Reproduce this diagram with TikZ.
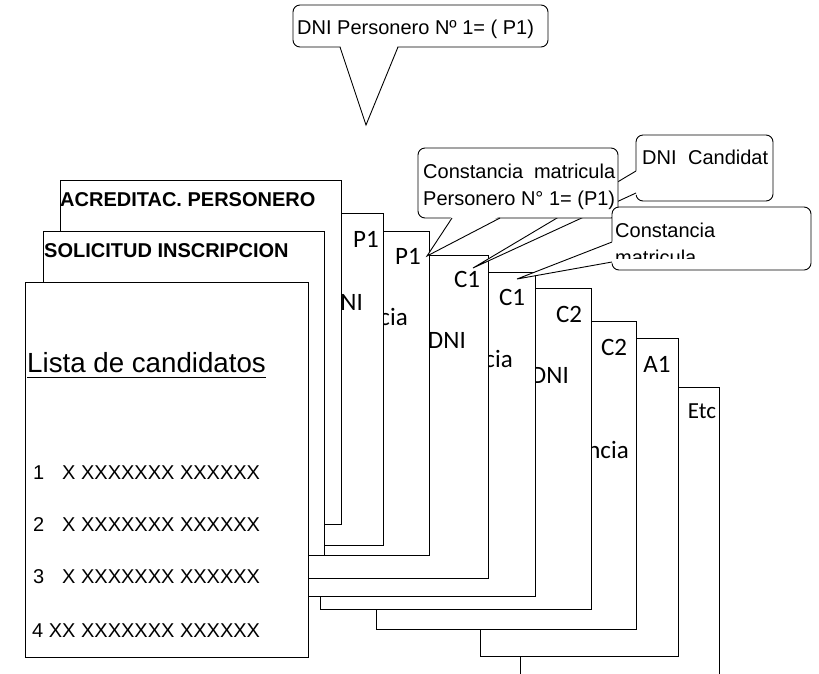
\documentclass[tikz,border=0pt]{standalone}
\usepackage{fontspec}
\setmainfont{Liberation Sans}
\newfontfamily\calfont{Carlito}
\tikzset{
  sheet/.style={draw=black, fill=white, line width=0.9pt},
  lbl/.style={inner sep=0pt, font=\calfont\fontsize{25}{30}\selectfont},
  txt/.style={inner sep=0pt, anchor=base west, font=\fontsize{20}{24}\selectfont},
  head/.style={inner sep=0pt, anchor=base west, font=\bfseries\fontsize{20}{24}\selectfont},
  bubble/.style={draw=black, fill=white, line width=0.9pt, rounded corners=7pt},
  ptr/.style={draw=black, line width=0.9pt},
}
\begin{document}
\begin{tikzpicture}[x=1pt,y=-1pt]
\useasboundingbox (0,0) rectangle (819,673);
\clip (0,0) rectangle (819,673);
% ---- pages, back to front ----
\draw[sheet] (520,387) rectangle (719,700);
\node[lbl,font=\calfont\fontsize{23}{28}\selectfont] (etc) at (702,411) {Etc};
\draw[sheet] (480,338) rectangle (678,656);
\node[lbl] (a1) at (657,364) {A1};
\draw[sheet] (376,321) rectangle (636,629);
\node[lbl] (c2b) at (614,347) {C2};
\begin{scope}\clip (591,321) rectangle (636,629);
\node[lbl,anchor=base east] (c2bt) at (629,458) {Constancia};
\end{scope}
\draw[sheet] (320,288) rectangle (591,609);
\node[lbl] (c2a) at (569,314) {C2};
\begin{scope}\clip (535,288) rectangle (591,609);
\node[lbl,anchor=base east] (c2at) at (569,383) {DNI};
\end{scope}
\draw[sheet] (300,272) rectangle (535,596);
\node[lbl] (c1b) at (512,297) {C1};
\begin{scope}\clip (488,272) rectangle (535,596);
\node[lbl,anchor=base east] (c1bt) at (513,367) {Constancia};
\end{scope}
\draw[sheet] (295,255) rectangle (488,578);
\node[lbl] (c1a) at (467,279) {C1};
\begin{scope}\clip (429,255) rectangle (488,578);
\node[lbl,anchor=base east] (c1at) at (466,348) {DNI};
\end{scope}
\draw[sheet] (290,231) rectangle (429,555);
\node[lbl] (p1b) at (408,256) {P1};
\begin{scope}\clip (383,231) rectangle (429,555);
\node[lbl,anchor=base east] (p1bt) at (408,325) {Constancia};
\end{scope}
\draw[sheet] (300,213) rectangle (383,545);
\node[lbl] (p1a) at (366,239) {P1};
\begin{scope}\clip (341,213) rectangle (383,545);
\node[lbl,anchor=base east] (p1at) at (363,310) {DNI};
\end{scope}
\draw[sheet] (60,180) rectangle (341,524);
\node[head] (acr) at (60,206) {ACREDITAC. PERSONERO};
\draw[sheet] (43,231) rectangle (324,555);
\node[head] (sol) at (44,257) {SOLICITUD INSCRIPCION};
\draw[sheet] (25,282) rectangle (308,657);
\node[inner sep=0pt, anchor=base west, font=\fontsize{27.7}{32}\selectfont] (lista) at (27,372) {Lista de candidatos};
\draw[line width=0.9pt] ([yshift=-5pt]lista.base west) -- ([yshift=-5pt]lista.base east);
\node[txt] (l1) at (33,479) {\makebox[29pt][l]{1}X XXXXXXX XXXXXX};
\node[txt] (l2) at (33,531) {\makebox[29pt][l]{2}X XXXXXXX XXXXXX};
\node[txt] (l3) at (33,583) {\makebox[29pt][l]{3}X XXXXXXX XXXXXX};
\node[txt] (l4) at (32,637) {4 XX XXXXXXX XXXXXX};
% ---- callouts ----
% DNI Candidat
\coordinate (ctip) at (473,268);
\draw[bubble] (636,135) rectangle (773,201);
\fill[white] (ctip) -- (638,170) -- (638,194) -- cycle;
\draw[ptr] (636,171) -- (ctip) -- (636,193);
\node[txt] (dnic) at (642,164) {\makebox[126pt][l]{DNI\hfill Candidat}};
% Constancia matricula / Personero
\coordinate (btip) at (427,256);
\draw[bubble] (418,148) rectangle (618,218);
\fill[white] (btip) -- (452,216) -- (500,216) -- cycle;
\draw[ptr] (452,218) -- (btip) -- (500,218);
\node[txt] (cm1) at (423,178) {\makebox[192pt][l]{Constancia\hfill matricula}};
\node[txt] (cm2) at (423,205) {Personero N° 1= (P1)};
% Constancia matricula (lower)
\coordinate (dtip) at (517,279);
\draw[bubble] (612,207) rectangle (811,270);
\fill[white] (dtip) -- (614,241) -- (614,263) -- cycle;
\draw[ptr] (612,242) -- (dtip) -- (612,262);
\node[txt] (cm3) at (615,237) {Constancia};
\begin{scope}
\clip (600,200) rectangle (811,258);
\node[txt] (cm4) at (615,264) {matricula};
\end{scope}
% DNI Personero
\coordinate (atip) at (366,125);
\draw[bubble] (293,5) rectangle (548,47);
\fill[white] (atip) -- (340,45) -- (398,45) -- cycle;
\draw[ptr] (340,47) -- (atip) -- (398,47);
\node[txt] (dnip) at (297,34) {DNI Personero Nº 1= ( P1)};
\end{tikzpicture}
\end{document}
